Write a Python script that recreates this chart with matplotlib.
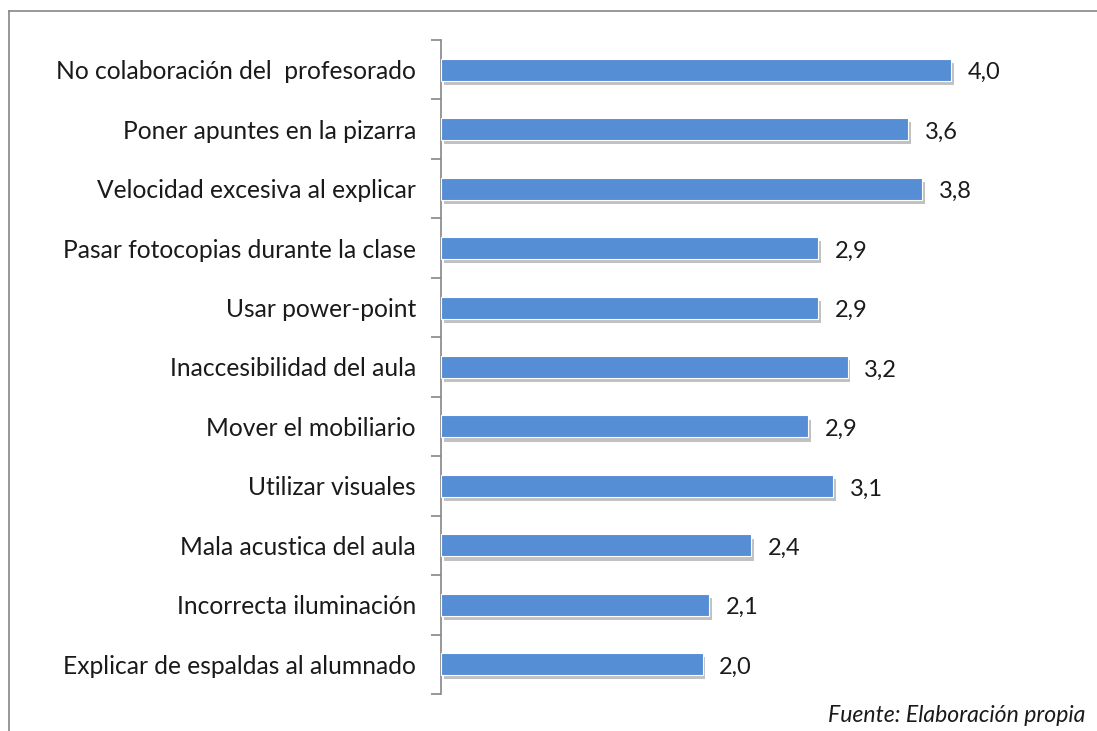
import matplotlib
matplotlib.use("Agg")
import matplotlib.pyplot as plt
import matplotlib.patheffects as pe
from matplotlib.lines import Line2D
import numpy as np

categories = [
    "No colaboración del  profesorado",
    "Poner apuntes en la pizarra",
    "Velocidad excesiva al explicar",
    "Pasar fotocopias durante la clase",
    "Usar power-point",
    "Inaccesibilidad del aula",
    "Mover el mobiliario",
    "Utilizar visuales",
    "Mala acustica del aula",
    "Incorrecta iluminación",
    "Explicar de espaldas al alumnado",
]
values = [3.98, 3.64, 3.75, 2.94, 2.94, 3.17, 2.86, 3.06, 2.42, 2.09, 2.04]
source = "Fuente: Elaboración propia"

plt.rcParams["font.family"] = ["Lato", "DejaVu Sans"]

fig = plt.figure(figsize=(10.97, 7.31), dpi=100)
ax = fig.add_axes([441 / 1097, 1 - 694 / 731, 619 / 1097, 654 / 731])

y = np.arange(len(categories))[::-1]
bars = ax.barh(y, values, height=0.37, color="#558ED5", edgecolor="white", linewidth=0.8,
               zorder=3)
for b in bars:
    b.set_path_effects([pe.SimplePatchShadow(offset=(2, -3), shadow_rgbFace="#777777", alpha=0.45),
                        pe.Normal()])

for yi, v in zip(y, values):
    ax.text(v + 0.13, yi - 0.05, f"{v:.1f}".replace(".", ","), va="center", ha="left",
            fontsize=17, color="#1a1a1a")

ax.set_xlim(0, 619 / 128.25)
ax.set_ylim(-0.5, len(categories) - 0.5)
ax.set_yticks(y)
ax.set_yticklabels(categories, fontsize=17.7, color="#1a1a1a")
ax.set_yticks(np.arange(-0.5, len(categories), 1.0), minor=True)
ax.tick_params(axis="y", which="major", length=0, pad=18)
ax.tick_params(axis="y", which="minor", length=7, width=1.2, color="#868686")
ax.set_xticks([])
for s in ["top", "right", "bottom"]:
    ax.spines[s].set_visible(False)
ax.spines["left"].set_color("#868686")
ax.spines["left"].set_linewidth(1.2)

# outer frame, cut off at right and bottom
fig.add_artist(Line2D([9 / 1097, 9 / 1097], [0, 1 - 11 / 731], transform=fig.transFigure,
                      color="#868686", lw=1.2))
fig.add_artist(Line2D([9 / 1097, 1], [1 - 11 / 731, 1 - 11 / 731], transform=fig.transFigure,
                      color="#868686", lw=1.2))

fig.text(1085 / 1097, 1 - 715 / 731, source, ha="right", va="center", fontsize=16.6,
         style="italic", color="#1a1a1a")

fig.savefig("out.png", dpi=100, facecolor="white")
